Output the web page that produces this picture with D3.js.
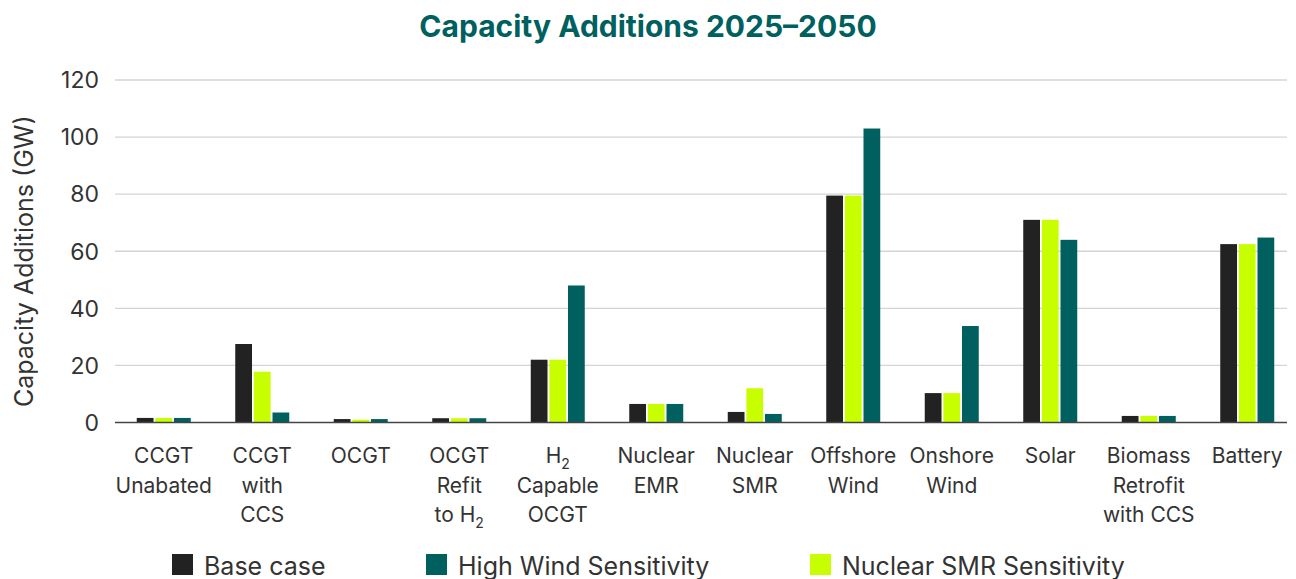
<!DOCTYPE html>
<html>
<head>
<meta charset="utf-8">
<script src="https://cdn.jsdelivr.net/npm/d3@7.9.0/dist/d3.min.js"></script>
<style>
  body { margin: 0; background: #fff; }
  svg { font-family: Inter, "Noto Sans", sans-serif; }
</style>
</head>
<body>
<svg id="chart" width="1296" height="579"></svg>
<script>
// categories; "_2" marks a subscript 2
const categories = [
  ["CCGT", "Unabated"],
  ["CCGT", "with", "CCS"],
  ["OCGT"],
  ["OCGT", "Refit", "to H_2"],
  ["H_2", "Capable", "OCGT"],
  ["Nuclear", "EMR"],
  ["Nuclear", "SMR"],
  ["Offshore", "Wind"],
  ["Onshore", "Wind"],
  ["Solar"],
  ["Biomass", "Retrofit", "with CCS"],
  ["Battery"]
];

const baseCase = [1.6, 27.5, 1.2, 1.5, 22, 6.5, 3.7, 79.5, 10.3, 71, 2.3, 62.5];
const nuclearSMR = [1.6, 17.8, 1.0, 1.5, 22, 6.5, 12.0, 79.5, 10.3, 71, 2.3, 62.5];
const highWind = [1.6, 3.5, 1.2, 1.5, 48, 6.5, 3.0, 103, 33.8, 64, 2.3, 64.8];

const yTicks = [0, 20, 40, 60, 80, 100, 120];

const series = [
  { name: "Base case", values: baseCase, color: "#222222" },
  { name: "Nuclear SMR Sensitivity", values: nuclearSMR, color: "#c8ff00" },
  { name: "High Wind Sensitivity", values: highWind, color: "#005f5f" }
];
const legendOrder = ["Base case", "High Wind Sensitivity", "Nuclear SMR Sensitivity"];

const svg = d3.select("#chart");
const plotLeft = 115, plotRight = 1287, plotTop = 80, plotBottom = 422.5;

const x = d3.scaleBand().domain(d3.range(categories.length)).range([114.5, 1296.5]);
const xSub = d3.scaleBand().domain(series.map(s => s.name)).range([0, 54]).paddingInner(0.1);
const y = d3.scaleLinear().domain([0, 120]).range([plotBottom, plotTop]);

// title
svg.append("text")
  .attr("x", 648).attr("y", 37)
  .attr("text-anchor", "middle")
  .attr("font-size", 30).attr("font-weight", 700)
  .attr("fill", "#005f5f")
  .text("Capacity Additions 2025–2050");

// grid
svg.append("g").selectAll("line")
  .data(yTicks.filter(d => d > 0))
  .join("line")
  .attr("x1", plotLeft).attr("x2", plotRight)
  .attr("y1", d => y(d)).attr("y2", d => y(d))
  .attr("stroke", "#d4d4d4").attr("stroke-width", 1.3);

// y tick labels
svg.append("g").selectAll("text")
  .data(yTicks)
  .join("text")
  .attr("x", 99).attr("y", d => y(d))
  .attr("dy", "0.36em")
  .attr("text-anchor", "end")
  .attr("font-size", 23).attr("fill", "#333")
  .text(d => d);

// y axis title
svg.append("text")
  .attr("transform", `translate(33,${(plotTop + plotBottom) / 2 + 10}) rotate(-90)`)
  .attr("text-anchor", "middle")
  .attr("font-size", 25).attr("fill", "#333")
  .text("Capacity Additions (GW)");

// bars
const groups = svg.append("g").selectAll("g")
  .data(categories)
  .join("g")
  .attr("transform", (d, i) => `translate(${x(i) + (x.bandwidth() - 54) / 2},0)`);

groups.selectAll("rect")
  .data((d, i) => series.map(s => ({ key: s.name, value: s.values[i], color: s.color })))
  .join("rect")
  .attr("x", d => xSub(d.key))
  .attr("width", xSub.bandwidth())
  .attr("y", d => y(d.value))
  .attr("height", d => y(0) - y(d.value))
  .attr("fill", d => d.color);

// zero line
svg.append("line")
  .attr("x1", plotLeft).attr("x2", plotRight)
  .attr("y1", y(0)).attr("y2", y(0))
  .attr("stroke", "#444").attr("stroke-width", 1.5);

// x labels
function addLine(textSel, str) {
  const parts = str.split("_");
  textSel.append("tspan").text(parts[0]);
  if (parts.length > 1) {
    textSel.append("tspan")
      .attr("font-size", 14).attr("dy", 6)
      .text(parts[1]);
  }
}
const xl = svg.append("g");
categories.forEach((lines, i) => {
  const cx = x(i) + x.bandwidth() / 2;
  lines.forEach((ln, j) => {
    const t = xl.append("text")
      .attr("x", cx).attr("y", 463 + j * 29.5)
      .attr("text-anchor", "middle")
      .attr("font-size", 21).attr("fill", "#333");
    addLine(t, ln);
  });
});

// legend
const legendX = [172, 426, 810];
const legend = svg.append("g").selectAll("g")
  .data(legendOrder.map(n => series.find(s => s.name === n)))
  .join("g")
  .attr("transform", (d, i) => `translate(${legendX[i]},554)`);
legend.append("rect")
  .attr("width", 21).attr("height", 21)
  .attr("fill", d => d.color);
legend.append("text")
  .attr("x", 32).attr("y", 20.5)
  .attr("font-size", 25).attr("fill", "#333")
  .text(d => d.name);
</script>
</body>
</html>
